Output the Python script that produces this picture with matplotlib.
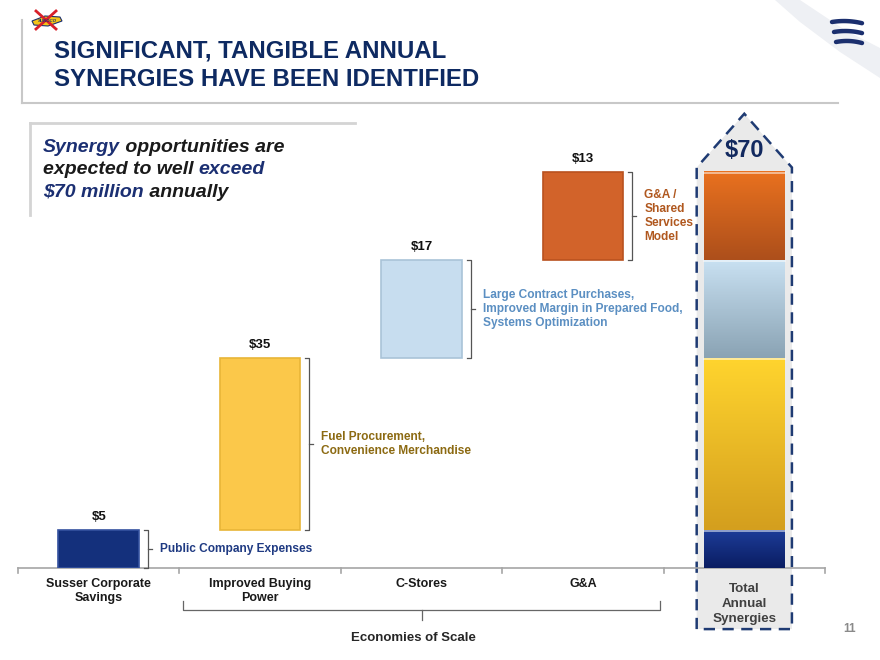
import numpy as np
import matplotlib.pyplot as plt
from matplotlib.patches import Polygon
from matplotlib.colors import LinearSegmentedColormap

plt.rcParams['font.family'] = ['Liberation Sans', 'DejaVu Sans']
plt.rcParams['text.parse_math'] = False

# ---- data ----
categories = ["Susser Corporate\nSavings", "Improved Buying\nPower", "C-Stores", "G&A"]
total_label = "Total\nAnnual\nSynergies"
value_labels = ["$5", "$35", "$17", "$13"]
total_value_label = "$70"
# bar heights as drawn on the slide (slide is not to scale), summing to 70
bar_heights = [6.7, 30.4, 17.3, 15.6]
notes = ["Public Company Expenses",
         "Fuel Procurement,\nConvenience Merchandise",
         "Large Contract Purchases,\nImproved Margin in Prepared Food,\nSystems Optimization",
         "G&A /\nShared\nServices\nModel"]
group_label = "Economies of Scale"
title_lines = ["SIGNIFICANT, TANGIBLE ANNUAL", "SYNERGIES HAVE BEEN IDENTIFIED"]
subtitle = [[("Synergy", "navy"), (" opportunities are", "dark")],
            [("expected to well ", "dark"), ("exceed", "navy")],
            [("$70 million", "navy"), (" annually", "dark")]]

# ---- styles ----
navy = "#12295f"
flat_colors = ["#14307c", "#fbc84a", "#c7ddef", "#d2632a"]
edge_colors = ["#3552a0", "#e8b537", "#a9c3d8", "#b9521f"]
grad_colors = [("#0a1d62", "#1d3c98"), ("#d49f1e", "#ffd42e"),
               ("#8aa3b4", "#c8e0f1"), ("#ad4f1b", "#e9711f")]
note_colors = ["#1f3a82", "#8c6a12", "#5b8fc2", "#b0581f"]

fig = plt.figure(figsize=(8.8, 6.6), dpi=100)

# background / slide layer in pixel coords
bg = fig.add_axes([0, 0, 1, 1])
bg.set_xlim(0, 880)
bg.set_ylim(660, 0)
bg.axis('off')

# chart layer
px = 5.657  # pixels per unit
ax = fig.add_axes([18 / 880, 1 - 568 / 660, 807 / 880, 468 / 660])
ax.patch.set_alpha(0)

bottoms = np.concatenate([[0], np.cumsum(bar_heights)[:-1]])
total = float(np.sum(bar_heights))

for i, (h, b) in enumerate(zip(bar_heights, bottoms)):
    xc = i + 0.5
    ax.bar(xc, h, bottom=b, width=0.5, color=flat_colors[i],
           edgecolor=edge_colors[i], linewidth=1.2, zorder=3)
    ax.annotate(value_labels[i], (xc, b + h), xytext=(0, 5), textcoords='offset points',
                ha='center', va='bottom', fontsize=9.5, fontweight='bold', color='#111111')
    # bracket
    xb = xc + 0.25 + 0.055
    tab = 0.025
    ax.plot([xb - tab, xb, xb, xb - tab], [b + h, b + h, b, b],
            color='#555555', lw=0.9, clip_on=False, zorder=3)
    mid = b + h / 2
    ax.plot([xb, xb + 0.025], [mid, mid], color='#555555', lw=0.9, clip_on=False)
    ax.text(xb + 0.075, mid, notes[i], ha='left', va='center', fontsize=8.6,
            fontweight='bold', color=note_colors[i], linespacing=1.2)

# total column: dashed arrow box
xt = 4.5
bx0, bx1 = xt - 0.295, xt + 0.295
box = Polygon([(bx0, -10.8), (bx0, total + 0.8), (xt, total + 10.3),
               (bx1, total + 0.8), (bx1, -10.8)], closed=True,
              facecolor='#eaeaea', edgecolor='#1f3b73', lw=1.8,
              linestyle=(0, (4.5, 3)), clip_on=False, zorder=1)
ax.add_patch(box)

grad = np.linspace(0, 1, 64).reshape(-1, 1)
for i, (h, b) in enumerate(zip(bar_heights, bottoms)):
    cmap = LinearSegmentedColormap.from_list('g%d' % i, grad_colors[i])
    ax.imshow(grad, extent=(xt - 0.25, xt + 0.25, b, b + h), origin='lower',
              cmap=cmap, aspect='auto', zorder=3)
    ax.plot([xt - 0.25, xt + 0.25], [b + h - 0.15, b + h - 0.15],
            color='white', lw=1.2, alpha=0.6, zorder=4)
ax.annotate(total_value_label, (xt, total), xytext=(0, 15.5), textcoords='offset points',
            ha='center', va='center', fontsize=17, fontweight='bold', color=navy, zorder=5)

# baseline with ticks
ax.plot([0, 5], [0, 0], color='#a6a6a6', lw=1.2, clip_on=False, zorder=2)
for k in range(6):
    ax.plot([k, k], [0, -0.8], color='#a6a6a6', lw=1.2, clip_on=False, zorder=2)

for i, lab in enumerate(categories):
    ax.annotate(lab, (i + 0.5, 0), xytext=(0, -7.5), textcoords='offset points',
                ha='center', va='top', fontsize=9, fontweight='bold', color='#1a1a1a',
                linespacing=1.15, annotation_clip=False)
ax.annotate(total_label, (xt, 0), xytext=(0, -10.5), textcoords='offset points',
            ha='center', va='top', fontsize=9.6, fontweight='bold', color='#404040',
            linespacing=1.34, annotation_clip=False, zorder=5)

# economies of scale brace
gx0, gx1, gy = 1.02, 3.98, -7.4
ax.plot([gx0, gx0, gx1, gx1], [gy + 1.6, gy, gy, gy + 1.6], color='#666666', lw=0.9, clip_on=False)
ax.plot([2.5, 2.5], [gy, gy - 1.8], color='#666666', lw=0.9, clip_on=False)
ax.text(2.45, -12.3, group_label, ha='center', va='center', fontsize=9.5,
        fontweight='bold', color='#262626')

ax.set_xlim(0, 5)
ax.set_ylim(0, 468 / px)
ax.axis('off')

# ---- slide decoration ----
# light swoosh top right
bg.add_patch(Polygon([(775, 0), (800, 0), (845, 30), (880, 48), (880, 78), (840, 52), (800, 22)],
                     closed=True, facecolor='#eef0f4', edgecolor='none', zorder=0))
# Energy Transfer mark
for k, y0 in enumerate([22, 32, 42]):
    xs = np.linspace(832 + k * 2, 862, 20)
    ys = y0 + 6 * ((xs - xs[0]) / (xs[-1] - xs[0]) - 0.5) ** 2 - 1.5 + (xs - xs[0]) * 0.04
    bg.plot(xs, ys, color='#1b2f6e', lw=3.2, solid_capstyle='round')
# Sunoco mark
bg.plot([36, 56], [11, 29], color='#d8202a', lw=2)
bg.plot([36, 56], [29, 11], color='#d8202a', lw=2)
bg.add_patch(Polygon([(32, 21), (45, 16), (60, 17), (62, 21), (48, 26), (34, 25)],
                     closed=True, facecolor='#f5c518', edgecolor='#1b2f6e', lw=0.8))
bg.text(47, 21, "SUNOCO", ha='center', va='center', fontsize=3.2,
        fontweight='bold', fontstyle='italic', color='#1b2f6e')

# header frame
bg.plot([22, 22], [20, 103], color='#c8c8c8', lw=1.5)
bg.plot([22, 838], [103, 103], color='#c8c8c8', lw=1.5)
for j, line in enumerate(title_lines):
    bg.text(54, 51 + 28 * j, line, ha='left', va='center', fontsize=17.3,
            fontweight='bold', color='#0e2a62')

# subtitle box
bg.plot([30, 355], [123, 123], color='#d4d4d4', lw=2)
bg.plot([30, 30], [123, 215], color='#d4d4d4', lw=2)
renderer = fig.canvas.get_renderer()
sub_kw = dict(fontsize=14, fontweight='bold', fontstyle='italic')


def text_width(s):
    t1 = bg.text(0, 0, s + "x", **sub_kw)
    t2 = bg.text(0, 0, "x", **sub_kw)
    w = t1.get_window_extent(renderer).width - t2.get_window_extent(renderer).width
    t1.remove()
    t2.remove()
    return w


for j, parts in enumerate(subtitle):
    x = 43
    y = 152 + 22.5 * j
    prefix = ""
    for s, c in parts:
        bg.text(x + text_width(prefix) if prefix else x, y, s, ha='left', va='baseline',
                color='#1b2f72' if c == 'navy' else '#1a1a1a', **sub_kw)
        prefix += s

bg.text(850, 629, "11", ha='center', va='center', fontsize=8.5, fontweight='bold', color='#8a8a8a')

fig.savefig("out.png", dpi=100)
